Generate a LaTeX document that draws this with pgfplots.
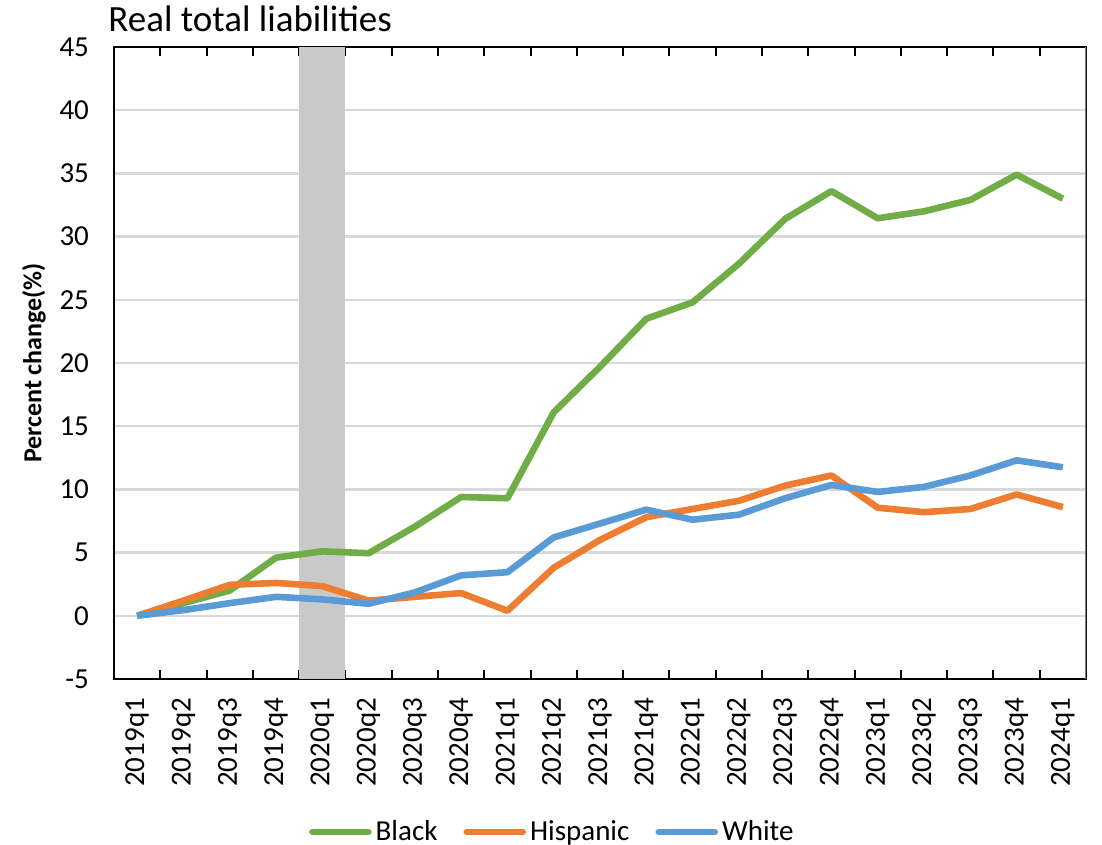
\documentclass[border=0pt]{standalone}
\usepackage{fontspec}
\setmainfont{Carlito}
\usepackage{pgfplots}
\pgfplotsset{compat=1.18}
\usetikzlibrary{calc}

\definecolor{cgreen}{HTML}{70AD47}
\definecolor{corange}{HTML}{ED7D31}
\definecolor{cblue}{HTML}{5B9BD5}
\definecolor{cshade}{HTML}{C9C9C9}
\definecolor{cgrid}{HTML}{D9D9D9}

% x = quarter index, 0 = 2019q1 ... 20 = 2024q1
\pgfplotstableread{
x black hisp white
0  0.0   0.0   0.0
1  1.0   1.2   0.45
2  2.0   2.45  1.0
3  4.6   2.6   1.5
4  5.1   2.35  1.3
5  4.95  1.2   0.95
6  7.05  1.5   1.85
7  9.4   1.8   3.2
8  9.3   0.4   3.45
9  16.1  3.8   6.2
10 19.7  6.0   7.3
11 23.5  7.8   8.4
12 24.8  8.45  7.6
13 27.85 9.1   8.0
14 31.4  10.3  9.3
15 33.6  11.1  10.35
16 31.45 8.55  9.8
17 32.0  8.2   10.2
18 32.9  8.45  11.1
19 34.9  9.6   12.3
20 33.0  8.6   11.75
}\liab

\begin{document}
\begin{tikzpicture}
\begin{axis}[
    name=ax,
    scale only axis,
    width=486pt, height=316pt,
    xmin=-0.5, xmax=20.5,
    ymin=-5, ymax=45,
    ytick={-5,0,5,10,15,20,25,30,35,40,45},
    xtick={-0.5,0.5,...,20.5},
    xticklabels={2019q1,2019q2,2019q3,2019q4,2020q1,2020q2,2020q3,2020q4,
                 2021q1,2021q2,2021q3,2021q4,2022q1,2022q2,2022q3,2022q4,
                 2023q1,2023q2,2023q3,2023q4,2024q1},
    x tick label as interval,
    xticklabel style={rotate=90, anchor=east, font=\fontsize{14.5}{16}\selectfont},
    xticklabel shift=6pt,
    yticklabel style={font=\fontsize{14.5}{16}\selectfont},
    yticklabel shift=9pt,
    /pgf/number format/assume math mode=true,
    tick align=inside,
    major tick length=4.5pt,
    xtick style={black, line width=1pt},
    ytick style={draw=none},
    ymajorgrids,
    grid style={cgrid, line width=1.2pt},
    axis line style={black, line width=1pt},
    ylabel={\bfseries Percent change(\%)},
    ylabel style={at={(axis description cs:-0.0823,0.5)}, anchor=center,
                  font=\fontsize{13}{15}\selectfont},
    legend style={at={(axis description cs:0.452,-0.242)}, anchor=center,
                  draw=none, legend columns=3,
                  font=\fontsize{14.5}{16}\selectfont,
                  /tikz/every even column/.append style={column sep=11pt}},
    legend image code/.code={\draw[#1, line cap=round] (0pt,0pt) -- (28pt,0pt);},
    every axis plot/.append style={line width=3.3pt, line join=round},
]
\addplot[fill=cshade, draw=none, line width=0pt, forget plot]
    coordinates {(3.5,-5) (4.5,-5) (4.5,45) (3.5,45)};
\addplot[cgreen] table[x=x, y=black] {\liab};
\addlegendentry{Black}
\addplot[corange] table[x=x, y=hisp] {\liab};
\addlegendentry{Hispanic}
\addplot[cblue] table[x=x, y=white] {\liab};
\addlegendentry{White}
\draw[gray, line width=1pt] (rel axis cs:1,0) -- (rel axis cs:1,1);
\end{axis}
\node[anchor=base west, font=\fontsize{18.5}{22}\selectfont, inner sep=0pt]
    at ($(ax.north west)+(-3pt,7.5pt)$) {Real total liabilities};
\pgfresetboundingbox
\path ($(ax.south west)+(-57pt,-83pt)$) rectangle ($(ax.south west)+(494pt,339.5pt)$);
\end{tikzpicture}
\end{document}
